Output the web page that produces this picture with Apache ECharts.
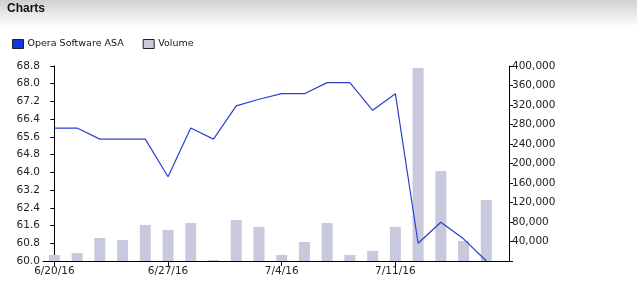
<!DOCTYPE html>
<html>
<head>
<meta charset="utf-8">
<script src="https://cdn.jsdelivr.net/npm/echarts@6/dist/echarts.min.js"></script>
<style>
html,body{margin:0;padding:0;background:#fff;}
#chart{width:637px;height:284px;}
</style>
</head>
<body>
<div id="chart"></div>
<script>
const dates = ['6/20/16','6/21/16','6/22/16','6/23/16','6/24/16','6/27/16','6/28/16','6/29/16','6/30/16','7/1/16',
               '7/4/16','7/5/16','7/6/16','7/7/16','7/8/16','7/11/16','7/12/16','7/13/16','7/14/16','7/15/16'];
const price = [66.0,66.0,65.5,65.5,65.5,63.8,66.0,65.5,67.0,67.3,
               67.55,67.55,68.05,68.05,66.8,67.55,60.8,61.75,61.0,60.0];
const volume = [12300,16400,47200,43000,73800,63600,78000,2000,84100,69700,
                12300,39000,78000,12300,20500,69700,395900,184600,41000,125100];
const xTickIdx = [0,5,10,15];
const leftTicks = {min:60, max:68.8, step:0.8};
const rightTicks = {min:0, max:400000, step:40000};

const chart = echarts.init(document.getElementById('chart'), null, {renderer:'canvas'});
const font = 'DejaVu Sans';
const axisColor = '#000';
chart.setOption({
  animation:false,
  backgroundColor:'#fff',
  graphic:[
    {type:'rect', left:0, top:0, shape:{width:637, height:27}, z:-1,
     style:{fill:new echarts.graphic.LinearGradient(0,0,0,1,[{offset:0,color:'#d0d0d0'},{offset:1,color:'#ffffff'}])}},
    {type:'text', left:7, top:3, style:{text:'Charts', font:'bold 12px "Liberation Sans", Arial, sans-serif', fill:'#111'}}
  ],
  legend:{
    left:7, top:34, itemWidth:11, itemHeight:9, itemGap:19, icon:'rect',
    textStyle:{fontFamily:font, fontSize:9.5, color:'#111', padding:[0,0,0,-1]},
    data:[
      {name:'Opera Software ASA', itemStyle:{color:'#1533e0', borderColor:'#222', borderWidth:1}},
      {name:'Volume', itemStyle:{color:'#cbcbdc', borderColor:'#222', borderWidth:1}}
    ]
  },
  grid:{left:43, right:128, top:66, bottom:23, containLabel:false},
  xAxis:{
    type:'value', min:-0.5, max:19.999,
    axisLine:{show:true, onZero:false, lineStyle:{color:axisColor, width:1}},
    axisTick:{show:true, length:5, customValues:xTickIdx, lineStyle:{color:axisColor}},
    axisLabel:{customValues:xTickIdx, formatter:v=>dates[Math.round(v)], fontFamily:font, fontSize:10.5, color:'#222', margin:5},
    splitLine:{show:false}
  },
  yAxis:[
    {type:'value', position:'left', min:leftTicks.min, max:leftTicks.max, interval:leftTicks.step,
     axisLine:{show:true, lineStyle:{color:axisColor}},
     axisTick:{show:true, length:4, lineStyle:{color:axisColor}},
     axisLabel:{formatter:v=>v.toFixed(1), fontFamily:font, fontSize:10.5, color:'#222', margin:3},
     splitLine:{show:false}},
    {type:'value', position:'right', min:rightTicks.min, max:rightTicks.max, interval:rightTicks.step,
     axisLine:{show:true, lineStyle:{color:axisColor}},
     axisTick:{show:true, length:4, lineStyle:{color:axisColor}},
     axisLabel:{formatter:v=>v===0?'':v.toLocaleString('en-US'), fontFamily:font, fontSize:10.5, color:'#222', margin:3},
     splitLine:{show:false}}
  ],
  series:[
    {name:'Volume', type:'bar', yAxisIndex:1, barWidth:11, z:1,
     itemStyle:{color:'#c8c9dd'},
     data:volume.map((v,i)=>[i,v])},
    {name:'Opera Software ASA', type:'line', yAxisIndex:0, showSymbol:false, symbol:'none', z:3,
     lineStyle:{color:'#2a40d0', width:1.2},
     data:price.map((v,i)=>[i,v])}
  ]
});
</script>
</body>
</html>
